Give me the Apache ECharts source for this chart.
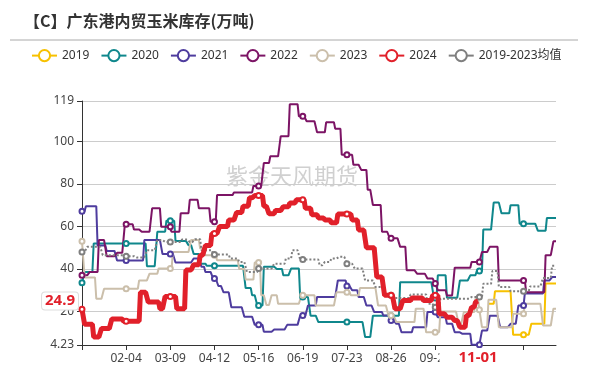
<!DOCTYPE html>
<html><head><meta charset="utf-8">
<script src="https://cdn.jsdelivr.net/npm/echarts@6/dist/echarts.min.js"></script>
<style>html,body{margin:0;padding:0;background:#fff}#c{width:589px;height:370px}</style>
</head><body><div id="c"></div>
<script>
// categories: every day of the (leap) year, MM-DD
const categories = [];
for (let i = 0; i < 366; i++) {
  const d = new Date(Date.UTC(2024, 0, 1) + i * 86400000);
  categories.push(String(d.getUTCMonth() + 1).padStart(2, '0') + '-' + String(d.getUTCDate()).padStart(2, '0'));
}
const yTickMin = 4.23;
const yTickMax = 119;

// weekly readings: [date the value takes effect, value]
const s2019 = [['11-09',23.6],['11-14',29.5],['11-28',9],['12-12',14.2],['12-23',33.1]];
const s2020 = [['01-01',33.5],['01-03',38.6],['01-10',52],['02-20',41.3],['02-28',57.5],['03-06',62.7],['03-13',53.2],['03-23',51.2],['03-27',47],['04-01',42.5],['04-06',41.5],['05-06',31],['05-11',27.6],['05-15',22.8],['05-20',41],['05-30',40],['06-04',37],['06-10',40.2],['06-17',26.8],['06-25',18],['07-01',15],['08-06',8],['08-12',18],['09-02',33.8],['09-28',26.3],['10-01',37],['10-08',26.5],['10-18',34.6],['10-26',37],['10-31',39],['11-05',58.5],['11-13',71.2],['11-19',66.2],['11-26',70],['12-03',61.3],['12-17',58],['12-24',64]];
const s2021 = [['01-01',67.2],['01-04',69.5],['01-13',51],['01-20',48.5],['01-28',44],['02-18',53.6],['03-03',47],['03-13',43],['03-27',44.9],['04-02',41],['04-05',38.6],['04-11',35.5],['04-15',32],['04-19',29],['04-25',22],['05-05',17.5],['05-13',13.7],['05-20',10.5],['05-28',11.5],['06-07',13.7],['06-17',18.1],['06-23',22.8],['06-30',26.8],['07-16',34.6],['07-23',32],['07-27',30],['08-01',26.8],['08-07',22.8],['08-13',19.7],['08-20',18.1],['08-26',15.8],['08-30',14.2],['09-03',10.2],['09-12',12.6],['09-23',19.7],['10-01',17.3],['10-08',14.2],['10-14',10.2],['10-20',9.5],['10-27',4.4],['11-04',11],['11-10',18],['11-18',12.6],['11-26',14.2],['12-02',22.8],['12-07',28.5],['12-22',34.6],['12-28',36.2]];
const s2022 = [['01-01',37],['01-07',38.6],['01-14',53.6],['01-20',46],['01-28',47.6],['02-03',61],['02-10',58.6],['02-16',57.5],['02-24',68.5],['03-02',59.8],['03-10',57.5],['03-17',66.2],['03-24',72.5],['03-31',68.5],['04-09',62.2],['04-14',74.8],['04-27',76],['05-12',79],['05-20',89.8],['05-25',93],['06-02',102.4],['06-09',117.5],['06-16',111.8],['06-22',109.5],['06-30',104.3],['07-07',109],['07-14',105.9],['07-19',93.7],['07-28',89],['08-03',86.6],['08-08',77.2],['08-12',70.1],['08-19',57.5],['08-25',54.4],['09-02',50.4],['09-07',39.4],['09-15',37.8],['09-23',35.5],['09-29',33.1],['10-01',30],['10-08',27.5],['10-14',40.6],['10-27',43.3],['11-04',48],['11-10',50.4],['11-17',34.6],['12-08',29.1],['12-23',46.5],['12-29',53]];
const s2023 = [['01-01',53],['01-03',36],['01-12',26],['01-18',30.7],['02-14',34.6],['02-22',37.8],['02-29',40.2],['03-11',48],['03-25',53.6],['04-01',49.6],['04-05',46.5],['04-14',44.1],['05-01',40],['05-06',35],['05-13',43],['05-18',27.6],['05-22',23],['05-26',27.6],['05-31',23.6],['06-18',27.6],['06-29',22.8],['07-15',29.1],['07-26',27.6],['08-02',31],['08-16',22.8],['08-24',18.1],['08-30',15],['09-14',21.3],['09-22',10.2],['10-03',20],['10-17',14.2],['10-21',19.7],['10-30',26],['11-02',20.8],['11-04',12.6],['11-09',25.5],['11-17',12.6],['11-28',18.9],['12-07',23.6],['12-21',13.4],['12-29',21.3]];
const s2024 = [['01-01',21],['01-03',14],['01-10',8],['01-16',12],['01-24',16.5],['02-02',15.4],['02-15',29],['02-21',24.4],['03-01',21.3],['03-05',27],['03-14',21.3],['03-21',39.5],['03-27',42],['04-01',46.5],['04-05',51],['04-10',56.7],['04-16',60],['04-23',63],['04-29',66.5],['05-04',69.5],['05-09',73.5],['05-13',74.5],['05-20',69.5],['05-24',66],['05-29',67.5],['06-04',69.3],['06-09',71],['06-14',72.5],['06-21',68.5],['06-26',65.5],['07-01',64],['07-06',63],['07-11',61.7],['07-16',65.8],['07-27',63],['08-01',58.3],['08-07',50],['08-15',36.2],['08-21',27.6],['08-29',21.3],['09-04',25.2],['09-11',26.3],['09-20',25.2],['09-27',27.6],['10-02',18.9],['10-08',17.3],['10-14',15.7],['10-18',12.6],['10-23',18.1],['10-27',22],['10-30',24.4],['11-01',24.9]];
const sMean = [['01-01',48],['01-05',50.4],['01-17',46.5],['02-03',46],['02-12',45.4],['02-20',48.8],['02-28',53.6],['03-05',52.7],['03-18',53.9],['03-24',52.7],['03-28',54],['04-02',48.8],['04-11',46.8],['04-24',44.9],['05-01',43.3],['05-07',38.6],['05-16',40.2],['05-28',42.5],['06-06',44.9],['06-11',48.8],['06-17',44.4],['07-02',41.7],['07-06',43.3],['07-11',44.9],['07-17',45.7],['07-23',42.5],['07-29',40.2],['08-06',34.6],['08-14',31.5],['08-22',27.6],['08-28',26.3],['09-10',28],['09-23',23.6],['09-28',22],['10-03',26],['10-27',26.8],['11-05',33],['11-12',39],['11-17',31.5],['11-26',29.5],['12-11',31.8],['12-21',35.8],['12-28',41.5]];

const names = ['2019', '2020', '2021', '2022', '2023', '2024', '2019-2023均值'];
const colors = ['#f7c100', '#0f878c', '#4e3c9e', '#7c1465', '#cbbfab', '#e1202a', '#7f7f7f'];

function expand(points, lastDate) {
  const idx = points.map(p => categories.indexOf(p[0]));
  const last = lastDate ? categories.indexOf(lastDate) : categories.length - 1;
  return categories.map((c, i) => {
    if (i < idx[0] || i > last) return null;
    let v = null;
    for (let k = 0; k < idx.length; k++) if (idx[k] <= i) v = points[k][1];
    return v;
  });
}
const lastPoint2024 = s2024[s2024.length - 1];
const lastIndex2024 = categories.indexOf(lastPoint2024[0]);
const seriesData = [
  expand(s2019), expand(s2020), expand(s2021), expand(s2022), expand(s2023),
  expand(s2024, lastPoint2024[0]), expand(sMean)
];

const FONT = "'Noto Sans', 'Noto Sans CJK SC', sans-serif";
const series = names.map((n, i) => ({
  name: n,
  type: 'line',
  data: seriesData[i],
  symbol: 'emptyCircle',
  symbolSize: 5,
  showAllSymbol: 'auto',
  connectNulls: false,
  z: i === 5 ? 4 : 2,
  itemStyle: { color: colors[i], borderWidth: 1 },
  lineStyle: { color: colors[i], width: i === 5 ? 5 : 2, type: i === 6 ? 'dotted' : 'solid' }
}));

const chart = echarts.init(document.getElementById('c'), null, { renderer: 'canvas' });
chart.setOption({
  animation: false,
  backgroundColor: '#fff',
  color: colors,
  title: {
    text: '【C】广东港内贸玉米库存(万吨)', left: 24, top: 13, padding: 0,
    textStyle: { fontSize: 16, fontWeight: 'bold', color: '#333', fontFamily: "'Noto Sans CJK SC', sans-serif" }
  },
  legend: {
    left: 26, top: 44, itemWidth: 25, itemHeight: 14, itemGap: 11,
    textStyle: { fontSize: 12, color: '#333', fontFamily: FONT },
    lineStyle: { width: 2, type: 'solid' },
    itemStyle: { borderWidth: 1 },
    data: names
  },
  grid: { left: 82, right: 33, top: 101, bottom: 25, containLabel: false },
  xAxis: {
    type: 'category', data: categories, boundaryGap: false,
    axisLine: { show: true, lineStyle: { color: '#333' } },
    axisTick: { show: true, interval: 33, length: 5, lineStyle: { color: '#333' } },
    axisLabel: { interval: 33, fontSize: 12, color: '#444', fontFamily: FONT, margin: 8,
      formatter: (v, i) => (i === 0 || i > lastIndex2024 ? '' : v) },
    splitLine: { show: false },
    axisPointer: {
      show: true, type: 'none', status: 'show', value: lastIndex2024,
      snap: false, triggerTooltip: false,
      label: { show: true, formatter: () => lastPoint2024[0], color: '#e1202a', fontWeight: 'bold', fontSize: 15,
        fontFamily: FONT, backgroundColor: '#fff', padding: [2, 19], margin: 3, borderWidth: 0, shadowBlur: 0 }
    }
  },
  yAxis: {
    type: 'value', min: yTickMin, max: yTickMax,
    axisLine: { show: true, lineStyle: { color: '#333' } },
    axisTick: { show: true, length: 5, lineStyle: { color: '#333' } },
    axisLabel: { fontSize: 12, color: '#444', fontFamily: FONT, margin: 8 },
    splitLine: { show: true, lineStyle: { color: '#ccc', width: 1 } },
    axisPointer: {
      show: true, type: 'none', status: 'show', value: lastPoint2024[1], snap: false, triggerTooltip: false,
      label: { show: true, formatter: () => String(lastPoint2024[1]), color: '#e1202a', fontWeight: 'bold', fontSize: 15,
        fontFamily: FONT, backgroundColor: '#fff', borderColor: '#ddd', borderWidth: 1, padding: [1, 3], margin: 4, shadowBlur: 0 }
    }
  },
  graphic: [
    { type: 'line', z: 0, shape: { x1: 10, y1: 40, x2: 578, y2: 40 }, style: { stroke: '#aaa', lineWidth: 1 } },
    { type: 'text', z: 0, left: 226, top: 165, style: { text: '紫金天风期货', fontSize: 22, fill: 'rgba(170,170,170,0.55)', fontFamily: "'Noto Sans CJK SC', sans-serif" } }
  ],
  series: series
});
</script>
</body></html>
